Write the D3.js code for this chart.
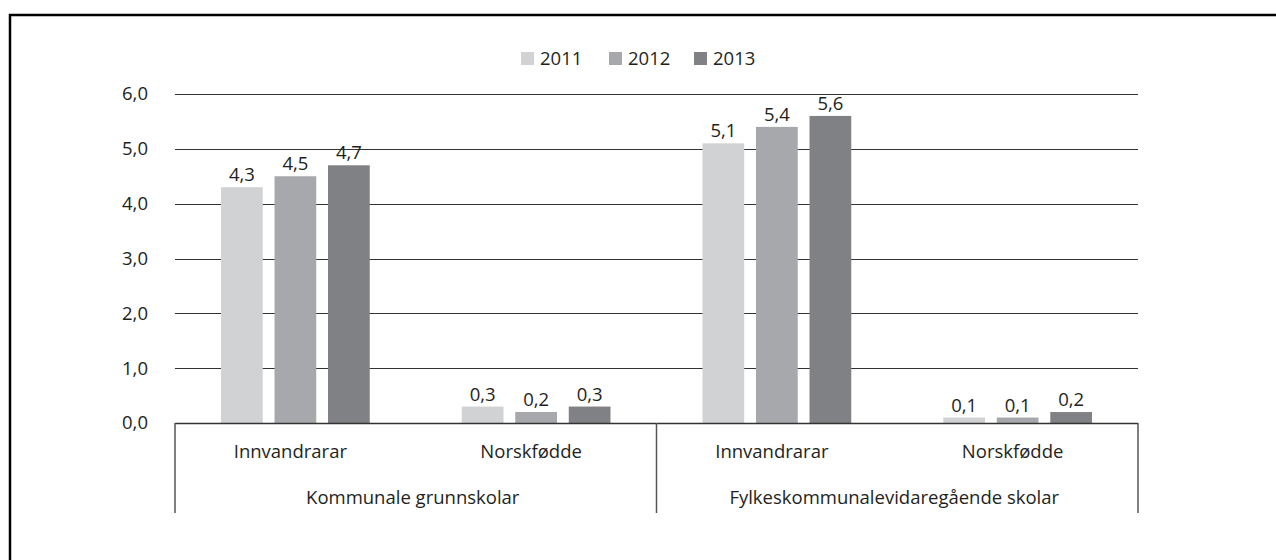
<!DOCTYPE html>
<html><head><meta charset="utf-8">
<script src="https://cdn.jsdelivr.net/npm/d3@7"></script>
<style>body{margin:0;background:#fff}svg{display:block}text{font-family:"Open Sans",sans-serif;fill:#231f20}</style>
</head><body><svg id="c" width="1276" height="560"></svg>
<script>
const groups = ["Kommunale grunnskolar", "Fylkeskommunalevidaregående skolar"];
const subcats = ["Innvandrarar", "Norskfødde"];
const years = ["2011", "2012", "2013"];
const colors = ["#d1d2d4", "#a7a8ab", "#808184"];
const v2011 = [4.3, 0.3, 5.1, 0.1];
const v2012 = [4.5, 0.2, 5.4, 0.1];
const v2013 = [4.7, 0.3, 5.6, 0.2];
const yTicks = [0, 1, 2, 3, 4, 5, 6];

const series = [v2011, v2012, v2013];
const cats = [];
groups.forEach((g, gi) => subcats.forEach((s, si) => cats.push({g, s, key: gi + "-" + si})));

const FS = 18.5;
const svg = d3.select("#c");
const fmt = d => d3.format(".1f")(d).replace(".", ",");

// outer frame
svg.append("rect").attr("x", 10).attr("y", 15).attr("width", 1300).attr("height", 600)
  .attr("fill", "none").attr("stroke", "#000").attr("stroke-width", 2.5);

const L = 175, R = 1138, T = 94, B = 423;
const x = d3.scaleBand().domain(cats.map(c => c.key)).range([L, R]);
const xi = d3.scaleBand().domain(years).range([46, x.bandwidth() - 46]).paddingInner(0.22);
const y = d3.scaleLinear().domain([0, 6]).range([B, T]);

// gridlines
svg.append("g").selectAll("line").data(yTicks.filter(t => t > 0)).join("line")
  .attr("x1", L).attr("x2", R).attr("y1", d => Math.round(y(d)) + 0.5).attr("y2", d => Math.round(y(d)) + 0.5)
  .attr("stroke", "#333").attr("stroke-width", 1.2);

// y labels
svg.append("g").selectAll("text").data(yTicks).join("text")
  .attr("x", 148).attr("y", d => y(d)).attr("dy", "0.35em").attr("text-anchor", "end")
  .attr("font-size", FS).text(fmt);

// bars
const bars = svg.append("g");
series.forEach((vals, si) => {
  bars.selectAll(null).data(vals).join("rect")
    .attr("x", (d, i) => x(cats[i].key) + xi(years[si]))
    .attr("y", d => y(d)).attr("width", xi.bandwidth()).attr("height", d => y(0) - y(d))
    .attr("fill", colors[si]);
  bars.selectAll(null).data(vals).join("text")
    .attr("x", (d, i) => x(cats[i].key) + xi(years[si]) + xi.bandwidth() / 2)
    .attr("y", d => y(d) - 6).attr("text-anchor", "middle").attr("font-size", FS).text(fmt);
});

// x axis line
svg.append("line").attr("x1", L).attr("x2", R).attr("y1", B + 0.5).attr("y2", B + 0.5)
  .attr("stroke", "#333").attr("stroke-width", 1.3);
// dividers
const divs = [L, (L + R) / 2, R];
svg.append("g").selectAll("line").data(divs).join("line")
  .attr("x1", d => d).attr("x2", d => d).attr("y1", B).attr("y2", 513)
  .attr("stroke", "#555").attr("stroke-width", 1.5);

// subcategory labels
svg.append("g").selectAll("text").data(cats).join("text")
  .attr("x", d => x(d.key) + x.bandwidth() / 2 - 5).attr("y", 452).attr("dy", "0.35em")
  .attr("text-anchor", "middle").attr("font-size", FS).text(d => d.s);
// group labels
svg.append("g").selectAll("text").data(groups).join("text")
  .attr("x", (d, i) => L + (R - L) / 4 * (2 * i + 1) - 3).attr("y", 498).attr("dy", "0.35em")
  .attr("text-anchor", "middle").attr("font-size", FS).text(d => d);

// legend
const legX = [521, 609, 694];
const leg = svg.append("g");
years.forEach((yr, i) => {
  leg.append("rect").attr("x", legX[i]).attr("y", 52).attr("width", 13).attr("height", 13).attr("fill", colors[i]);
  leg.append("text").attr("x", legX[i] + 19).attr("y", 59).attr("dy", "0.35em").attr("font-size", FS).text(yr);
});
</script></body></html>
